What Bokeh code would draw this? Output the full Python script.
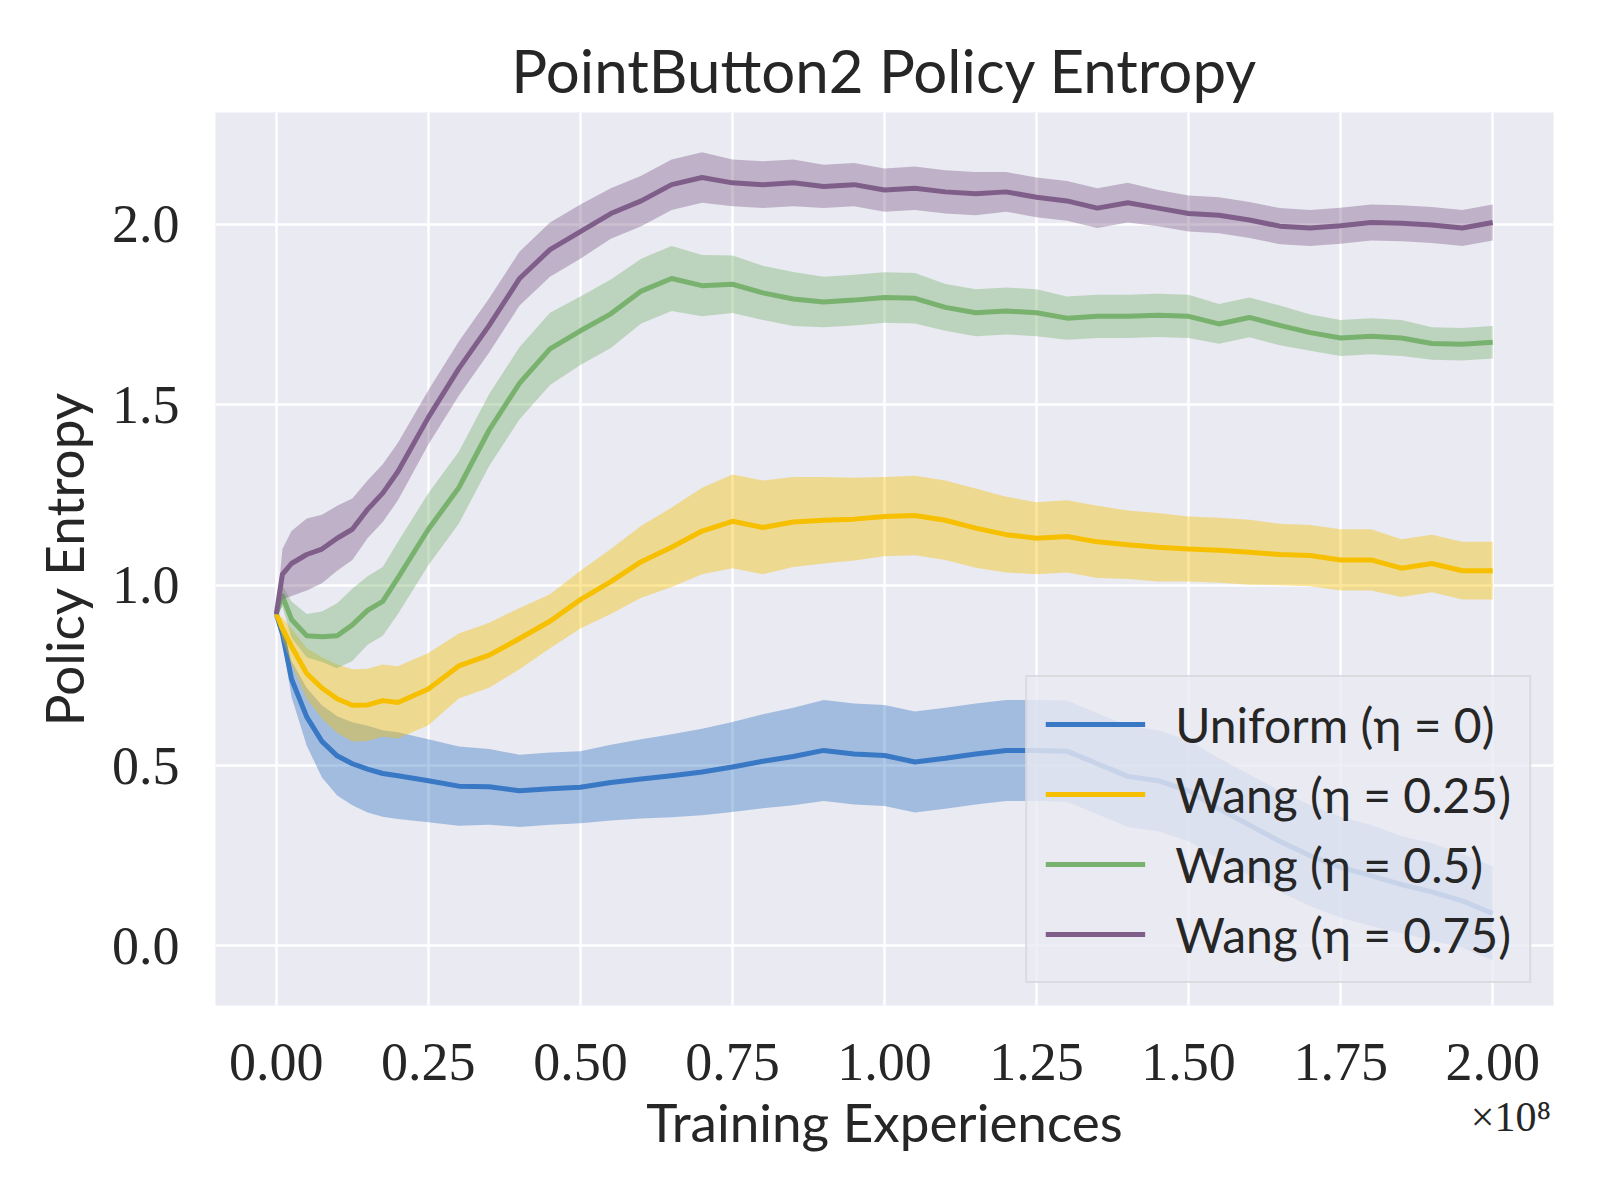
from bokeh.plotting import figure
from bokeh.models import Legend, LegendItem, LinearAxis, FixedTicker, NumeralTickFormatter, Range1d
from bokeh.embed import file_html
from bokeh.resources import INLINE

# x in units of 1e8 training experiences
x_e8 = [0, 0.01, 0.025, 0.05, 0.075, 0.1, 0.125, 0.15, 0.175, 0.2,
        0.25, 0.3, 0.35, 0.4, 0.45, 0.5, 0.55, 0.6, 0.65, 0.7,
        0.75, 0.8, 0.85, 0.9, 0.95, 1.0, 1.05, 1.1, 1.15, 1.2,
        1.25, 1.3, 1.35, 1.4, 1.45, 1.5, 1.55, 1.6, 1.65, 1.7,
        1.75, 1.8, 1.85, 1.9, 1.95, 2.0]

uniform_mean = [0.92, 0.865, 0.74, 0.635, 0.567, 0.527, 0.505, 0.49, 0.478, 0.472,
                0.458, 0.443, 0.441, 0.43, 0.436, 0.44, 0.453, 0.463, 0.472, 0.482,
                0.496, 0.512, 0.525, 0.542, 0.532, 0.528, 0.51, 0.52, 0.532, 0.542,
                0.542, 0.54, 0.505, 0.47, 0.458, 0.43, 0.38, 0.335, 0.29, 0.25,
                0.218, 0.195, 0.17, 0.15, 0.125, 0.09]
uniform_std = [0.0, 0.02, 0.05, 0.08, 0.1, 0.11, 0.115, 0.12, 0.12, 0.12,
               0.115, 0.11, 0.105, 0.1, 0.1, 0.1, 0.105, 0.11, 0.115, 0.12,
               0.125, 0.13, 0.135, 0.14, 0.14, 0.14, 0.14, 0.14, 0.14, 0.14,
               0.14, 0.14, 0.14, 0.14, 0.14, 0.14, 0.14, 0.14, 0.14, 0.14,
               0.14, 0.14, 0.135, 0.135, 0.13, 0.13]

wang025_mean = [0.92, 0.88, 0.83, 0.755, 0.715, 0.685, 0.667, 0.668, 0.68, 0.675,
                0.712, 0.776, 0.806, 0.852, 0.9, 0.96, 1.01, 1.065, 1.105, 1.15,
                1.177, 1.16, 1.175, 1.18, 1.183, 1.19, 1.193, 1.18, 1.158, 1.14,
                1.13, 1.135, 1.12, 1.112, 1.105, 1.10, 1.097, 1.091, 1.085, 1.082,
                1.07, 1.07, 1.047, 1.06, 1.04, 1.04]
wang025_std = [0.0, 0.03, 0.05, 0.07, 0.085, 0.095, 0.1, 0.1, 0.1, 0.1,
               0.1, 0.09, 0.09, 0.085, 0.075, 0.08, 0.09, 0.1, 0.11, 0.12,
               0.13, 0.13, 0.125, 0.12, 0.115, 0.11, 0.11, 0.11, 0.11, 0.105,
               0.1, 0.1, 0.1, 0.095, 0.095, 0.09, 0.09, 0.09, 0.085, 0.085,
               0.085, 0.085, 0.08, 0.08, 0.08, 0.08]

wang05_mean = [0.92, 0.97, 0.905, 0.86, 0.857, 0.86, 0.89, 0.93, 0.955, 1.02,
               1.155, 1.27, 1.43, 1.56, 1.655, 1.705, 1.752, 1.815, 1.85, 1.83,
               1.834, 1.81, 1.793, 1.785, 1.79, 1.797, 1.795, 1.77, 1.755, 1.76,
               1.755, 1.74, 1.745, 1.745, 1.748, 1.745, 1.724, 1.742, 1.72, 1.70,
               1.685, 1.69, 1.685, 1.67, 1.668, 1.673]
wang05_std = [0.0, 0.03, 0.05, 0.06, 0.07, 0.09, 0.1, 0.095, 0.095, 0.1,
              0.1, 0.1, 0.1, 0.1, 0.1, 0.095, 0.095, 0.09, 0.09, 0.085,
              0.08, 0.075, 0.075, 0.07, 0.07, 0.07, 0.07, 0.065, 0.065, 0.065,
              0.065, 0.06, 0.06, 0.06, 0.06, 0.06, 0.055, 0.055, 0.055, 0.05,
              0.05, 0.05, 0.05, 0.045, 0.045, 0.045]

wang075_mean = [0.92, 1.03, 1.06, 1.085, 1.10, 1.13, 1.155, 1.21, 1.255, 1.315,
                1.465, 1.6, 1.72, 1.85, 1.93, 1.98, 2.03, 2.065, 2.11, 2.13,
                2.115, 2.11, 2.115, 2.105, 2.11, 2.095, 2.10, 2.09, 2.085, 2.09,
                2.075, 2.065, 2.045, 2.06, 2.045, 2.03, 2.025, 2.012, 1.995, 1.99,
                1.996, 2.005, 2.003, 1.998, 1.99, 2.005]
wang075_std = [0.0, 0.07, 0.09, 0.1, 0.095, 0.09, 0.085, 0.08, 0.08, 0.08,
               0.075, 0.075, 0.075, 0.075, 0.075, 0.075, 0.07, 0.07, 0.07, 0.07,
               0.065, 0.065, 0.065, 0.06, 0.06, 0.06, 0.06, 0.06, 0.06, 0.055,
               0.055, 0.055, 0.055, 0.055, 0.05, 0.05, 0.05, 0.05, 0.05, 0.05,
               0.05, 0.05, 0.05, 0.05, 0.05, 0.05]

series_labels = ["Uniform (η = 0)", "Wang (η = 0.25)", "Wang (η = 0.5)", "Wang (η = 0.75)"]
series_colors = ["#3878c4", "#f6c000", "#78b26e", "#7f5e8a"]
x_ticks = [0, 0.25, 0.5, 0.75, 1.0, 1.25, 1.5, 1.75, 2.0]
y_ticks = [0.0, 0.5, 1.0, 1.5, 2.0]
x_scale_text = "×10⁸"

SANS = "Lato"
SERIF = "Liberation Serif"
TXT = "#262626"

p = figure(frame_width=1338, frame_height=893,
           x_range=Range1d(-0.1, 2.1), y_range=Range1d(-0.165, 2.31),
           output_backend="svg", toolbar_location=None,
           min_border_left=215, min_border_right=31, min_border_top=112, min_border_bottom=179,
           background_fill_color="#eaeaf2", border_fill_color="white")
p.outline_line_color = None

p.title.text = "PointButton2 Policy Entropy"
p.title.text_font = SANS
p.title.text_font_size = "60px"
p.title.text_font_style = "normal"
p.title.text_color = TXT
p.title.align = "center"
p.title.standoff = 13

for ax in (p.xaxis[0], p.yaxis[0]):
    ax.axis_line_color = None
    ax.major_tick_line_color = None
    ax.minor_tick_line_color = None
    ax.major_tick_in = 0
    ax.major_tick_out = 0
    ax.minor_tick_in = 0
    ax.minor_tick_out = 0
    ax.major_label_text_font = SERIF
    ax.major_label_text_font_size = "54px"
    ax.major_label_text_color = TXT
    ax.axis_label_text_font = SANS
    ax.axis_label_text_font_size = "53px"
    ax.axis_label_text_font_style = "normal"
    ax.axis_label_text_color = TXT

p.xaxis[0].ticker = FixedTicker(ticks=x_ticks)
p.xaxis[0].formatter = NumeralTickFormatter(format="0.00")
p.yaxis[0].ticker = FixedTicker(ticks=y_ticks)
p.yaxis[0].formatter = NumeralTickFormatter(format="0.0")
p.xaxis[0].axis_label = "Training Experiences"
p.yaxis[0].axis_label = "Policy Entropy"
p.xaxis[0].major_label_standoff = 38
p.yaxis[0].major_label_standoff = 36
p.xaxis[0].axis_label_standoff = 7
p.yaxis[0].axis_label_standoff = 14

p.grid.grid_line_color = "white"
p.grid.grid_line_width = 2.5
p.xgrid.ticker = FixedTicker(ticks=x_ticks)
p.ygrid.ticker = FixedTicker(ticks=y_ticks)

means = [uniform_mean, wang025_mean, wang05_mean, wang075_mean]
stds = [uniform_std, wang025_std, wang05_std, wang075_std]
items = []
for lab, col, m, s in zip(series_labels, series_colors, means, stds):
    lo = [a - b for a, b in zip(m, s)]
    hi = [a + b for a, b in zip(m, s)]
    p.varea(x=x_e8, y1=lo, y2=hi, fill_color=col, fill_alpha=0.4)
    r = p.line(x=x_e8, y=m, line_color=col, line_width=5, line_join="round")
    items.append(LegendItem(label=lab, renderers=[r]))

legend = Legend(items=items, location="bottom_right", margin=22,
                padding=18, spacing=12, glyph_width=100, glyph_height=58,
                label_standoff=30, label_text_font=SANS, label_text_font_size="48px",
                label_text_color=TXT, background_fill_color="#eaeaf2",
                background_fill_alpha=0.8, border_line_color="#cccccc",
                border_line_width=2.5)
p.add_layout(legend)

# offset text "x10^8" drawn as a tick label of an extra, bare axis below
scale_axis = LinearAxis(ticker=FixedTicker(ticks=[2.03]),
                        major_label_overrides={2.03: x_scale_text},
                        axis_line_color=None, major_tick_line_color=None,
                        minor_tick_line_color=None, major_tick_in=0, major_tick_out=0,
                        minor_tick_in=0, minor_tick_out=0,
                        major_label_text_font=SERIF, major_label_text_font_size="42px",
                        major_label_text_color=TXT, major_label_standoff=-62)
p.add_layout(scale_axis, "below")

open("out.html", "w").write(file_html(p, INLINE))
